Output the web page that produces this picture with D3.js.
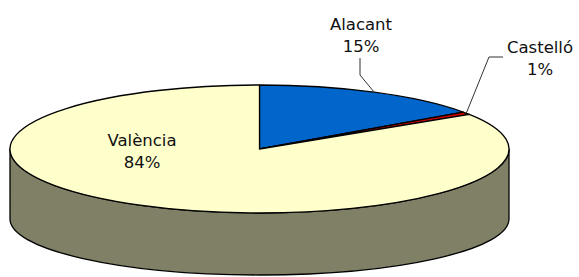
<!DOCTYPE html>
<html>
<head>
<meta charset="utf-8">
<script src="https://cdn.jsdelivr.net/npm/d3@7"></script>
<style>
  body { margin: 0; background: #fff; }
  text { font-family: "DejaVu Sans", Verdana, sans-serif; font-size: 16.5px; fill: #111; }
</style>
</head>
<body>
<div id="chart"></div>
<script>
// data
const provinces = ["Alacant", "Castelló", "València"];
const shares = [15.2, 0.7, 84.1];
const topColours = ["#0066cc", "#cc0000", "#ffffcc"];
const sideColours = ["#003366", "#660000", "#808066"];

const width = 579, height = 277;
const cx = 259.5, cy = 149, rx = 249.5, ry = 64;
const depth = 70, ryBottom = 56;

const svg = d3.select("#chart")
  .append("svg")
    .attr("width", width)
    .attr("height", height);

const data = provinces.map((p, i) => ({name: p, value: shares[i], top: topColours[i], side: sideColours[i]}));

const pie = d3.pie()
    .value(d => d.value)
    .sort(null)
    .startAngle(0)
    .endAngle(2 * Math.PI);

const arcs = pie(data);
const total = d3.sum(shares);

// point on the top ellipse (angle 0 = 12 o'clock, clockwise)
const pt = (t, f = 1) => [cx + f * rx * Math.sin(t), cy - f * ry * Math.cos(t)];
const pb = t => [cx + rx * Math.sin(t), cy + depth - ryBottom * Math.cos(t)];

function topPath(a) {
  const p0 = pt(a.startAngle), p1 = pt(a.endAngle);
  const large = a.endAngle - a.startAngle > Math.PI ? 1 : 0;
  return `M${cx},${cy}L${p0}A${rx},${ry} 0 ${large} 1 ${p1}Z`;
}

function sidePath(a) {
  const t0 = Math.max(a.startAngle, Math.PI / 2), t1 = Math.min(a.endAngle, 3 * Math.PI / 2);
  if (t1 <= t0) return null;
  const large = t1 - t0 > Math.PI ? 1 : 0;
  return `M${pt(t0)}A${rx},${ry} 0 ${large} 1 ${pt(t1)}L${pb(t1)}A${rx},${ryBottom} 0 ${large} 0 ${pb(t0)}Z`;
}

// sides first
svg.append("g")
  .selectAll("path")
  .data(arcs.filter(a => sidePath(a)))
  .join("path")
    .attr("d", sidePath)
    .attr("fill", d => d.data.side)
    .attr("stroke", "#000")
    .attr("stroke-width", 1.3)
    .attr("stroke-linejoin", "round");

// top faces
svg.append("g")
  .selectAll("path")
  .data(arcs)
  .join("path")
    .attr("d", topPath)
    .attr("fill", d => d.data.top)
    .attr("stroke", "#000")
    .attr("stroke-width", 1.3)
    .attr("stroke-linejoin", "round");

// labels
const labelPos = {
  "Alacant":  {x: 361, y: 30, leader: [[360, 58], [360, 75]]},
  "Castelló": {x: 540, y: 53, leader: [[503, 57], [489, 57]]},
  "València": {x: 142, y: 146}
};

const fmt = d => Math.round(d.value / total * 100) + "%";

arcs.forEach(a => {
  const lp = labelPos[a.data.name];
  if (lp.leader) {
    const mid = (a.startAngle + a.endAngle) / 2;
    const pts = lp.leader.concat([pt(mid)]);
    svg.append("path")
      .attr("d", d3.line()(pts))
      .attr("fill", "none")
      .attr("stroke", "#333")
      .attr("stroke-width", 1);
  }
  const t = svg.append("text")
    .attr("text-anchor", "middle");
  t.append("tspan").attr("x", lp.x).attr("y", lp.y).text(a.data.name);
  t.append("tspan").attr("x", lp.x).attr("y", lp.y + 22).text(fmt(a));
});
</script>
</body>
</html>
